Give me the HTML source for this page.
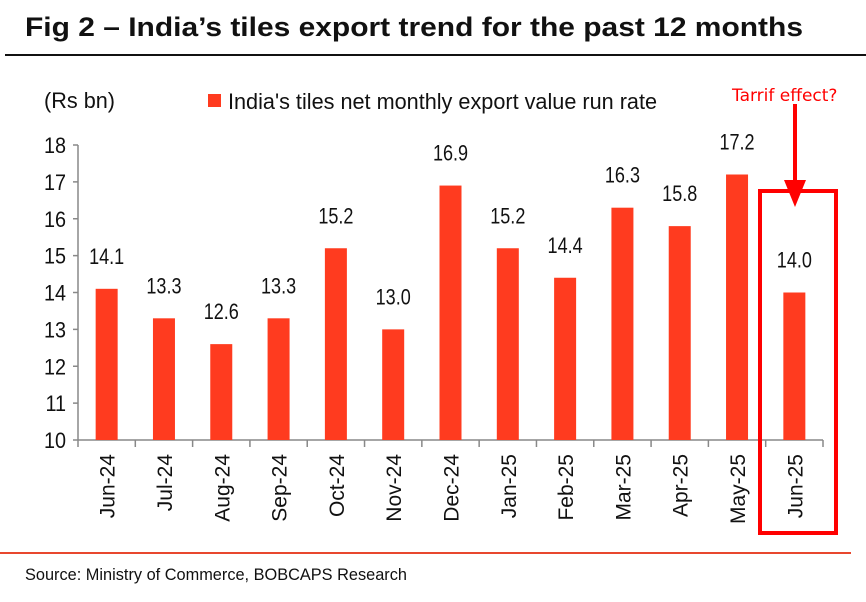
<!DOCTYPE html>
<html><head><meta charset="utf-8"><style>
body{margin:0;background:#fff;width:866px;height:597px;overflow:hidden}
text{font-family:"Liberation Sans",sans-serif}
</style></head><body>
<svg id="chart" width="866" height="597" xmlns="http://www.w3.org/2000/svg">
<text x="25" y="36" font-size="27" font-weight="bold" fill="#111" textLength="778" lengthAdjust="spacingAndGlyphs">Fig 2 – India’s tiles export trend for the past 12 months</text>
<line x1="5" y1="55" x2="866" y2="55" stroke="#111" stroke-width="2"/>
<text x="44" y="108" font-size="22" fill="#111" textLength="71" lengthAdjust="spacingAndGlyphs">(Rs bn)</text>
<rect x="208" y="94" width="13" height="13" fill="#ff3b1f"/>
<text x="228" y="109" font-size="22" fill="#111" textLength="429" lengthAdjust="spacingAndGlyphs">India's tiles net monthly export value run rate</text>
<g id="axes"></g><g id="bars"></g>
<rect x="760" y="191" width="76" height="342" fill="none" stroke="#f00" stroke-width="4"/>
<text x="732" y="101" font-size="17" fill="#f00" style="font-family:'DejaVu Sans',sans-serif">Tarrif effect?</text>
<line x1="795" y1="104" x2="795" y2="190" stroke="#f00" stroke-width="4"/>
<polygon points="784,180 806,180 795,207" fill="#f00"/>
<line x1="0" y1="553" x2="851" y2="553" stroke="#e8472e" stroke-width="2"/>
<text x="25" y="580" font-size="16.5" fill="#111" textLength="382" lengthAdjust="spacingAndGlyphs">Source: Ministry of Commerce, BOBCAPS Research</text>
</svg>
<script>
const categories=["Jun-24","Jul-24","Aug-24","Sep-24","Oct-24","Nov-24","Dec-24","Jan-25","Feb-25","Mar-25","Apr-25","May-25","Jun-25"];
const values=[14.1,13.3,12.6,13.3,15.2,13.0,16.9,15.2,14.4,16.3,15.8,17.2,14.0];
const labels=["14.1","13.3","12.6","13.3","15.2","13.0","16.9","15.2","14.4","16.3","15.8","17.2","14.0"];
const yTicks=[10,11,12,13,14,15,16,17,18];
const NS="http://www.w3.org/2000/svg";
const x0=78,x1=823,yMin=10,yMax=18,yTop=145,yBot=440;
const step=(x1-x0)/categories.length;
const y=v=>yBot-(v-yMin)/(yMax-yMin)*(yBot-yTop);
const xc=i=>x0+step*(i+0.5);
function mk(tag,attrs,parent){const e=document.createElementNS(NS,tag);for(const k in attrs)e.setAttribute(k,attrs[k]);parent.appendChild(e);return e;}
function condense(t,f){const w=t.getComputedTextLength();t.setAttribute('textLength',w*f);t.setAttribute('lengthAdjust','spacingAndGlyphs');}
const ax=document.getElementById('axes'),bg=document.getElementById('bars');
let l=mk('line',{x1:x0,y1:yTop,x2:x0,y2:yBot,stroke:'#888','stroke-width':1.5},ax);


l=mk('line',{x1:x0,y1:yBot,x2:x1,y2:yBot,stroke:'#888','stroke-width':1.5},ax);


yTicks.forEach(t=>{
 const tk=mk('line',{x1:x0-5,y1:y(t),x2:x0,y2:y(t),stroke:'#888','stroke-width':1.5},ax);
 
 
 const tx=mk('text',{x:x0-12,y:y(t)+8,'font-size':22,'text-anchor':'end',fill:'#111'},ax);
 tx.textContent=t;
 
 
 condense(tx,0.9);
});
for(let i=0;i<=categories.length;i++){
 const tk=mk('line',{x1:x0+step*i,y1:yBot,x2:x0+step*i,y2:yBot+7,stroke:'#888','stroke-width':1.5},ax);
 
 
}
categories.forEach((c,i)=>{
 const b=mk('rect',{x:xc(i)-11,y:y(values[i]),width:22,height:yBot-y(values[i]),fill:'#ff3b1f'},bg);
 
 
 const v=mk('text',{x:xc(i),y:y(values[i])-25,'font-size':22,'text-anchor':'middle',fill:'#111'},bg);
 v.textContent=labels[i];
 
 
 condense(v,0.82);
 const t=mk('text',{x:0,y:0,'font-size':21,'text-anchor':'end',fill:'#111',transform:`translate(${xc(i)+8},${yBot+14}) rotate(-90)`},bg);
 t.textContent=c;
 
 
});
</script>
</body></html>
